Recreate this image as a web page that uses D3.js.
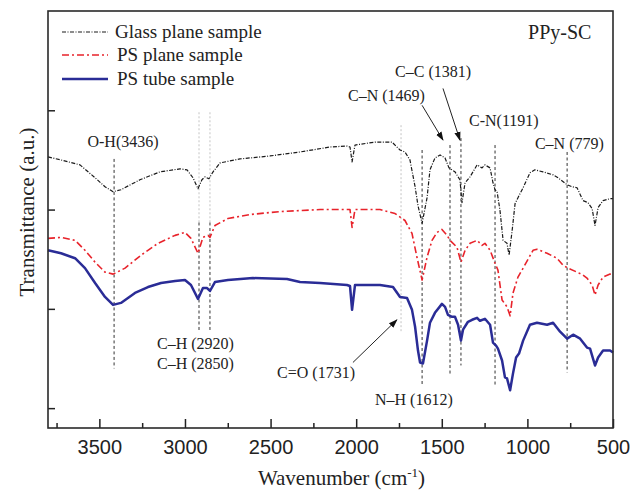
<!DOCTYPE html>
<html><head><meta charset="utf-8">
<script src="https://cdn.jsdelivr.net/npm/d3@7"></script>
<style>body{margin:0;background:#fff;} svg{display:block;}</style>
</head><body>
<svg id="chart" width="633" height="490"></svg>
<script>
// ---- data ----
const seriesNames = ["Glass plane sample", "PS plane sample", "PS tube sample"];
const glassWn = [3800,3724,3613,3525,3467,3420,3374,3263,3146,3029,2988,2953,2924,2901,2883,2860,2836,2795,2679,2503,2328,2153,2054,2036,2024,2007,1890,1791,1744,1715,1686,1656,1639,1615,1586,1569,1540,1510,1481,1458,1423,1394,1382,1364,1335,1294,1265,1248,1218,1201,1189,1177,1160,1142,1119,1107,1089,1072,1055,1025,985,956,909,850,821,768,739,710,675,646,622,605,587,558,517,500];
const glassT  = [3.53,3.50,3.45,3.32,3.23,3.18,3.20,3.30,3.38,3.41,3.40,3.32,3.21,3.30,3.33,3.31,3.38,3.47,3.51,3.54,3.58,3.63,3.64,3.63,3.48,3.65,3.68,3.68,3.60,3.58,3.50,3.23,3.04,2.86,3.12,3.40,3.52,3.55,3.52,3.42,3.38,3.30,3.07,3.27,3.33,3.45,3.42,3.45,3.42,3.27,3.20,3.18,2.99,2.69,2.66,2.54,2.79,3.06,3.12,3.22,3.37,3.40,3.38,3.35,3.32,3.25,3.23,3.22,3.09,3.07,3.01,2.84,3.02,3.09,3.11,3.11];
const planeWn = [3800,3724,3642,3584,3525,3467,3420,3350,3257,3158,3058,3000,2965,2924,2895,2865,2854,2825,2749,2620,2445,2211,2036,2024,2007,1861,1773,1715,1674,1645,1615,1586,1557,1528,1499,1469,1452,1411,1388,1364,1335,1294,1265,1248,1218,1189,1172,1148,1119,1101,1084,1055,1025,967,944,885,827,792,763,710,675,652,622,605,587,558,517,500];
const planeT  = [2.71,2.72,2.69,2.59,2.47,2.37,2.35,2.41,2.54,2.66,2.74,2.77,2.71,2.56,2.72,2.74,2.72,2.84,2.91,2.95,2.98,3.00,3.00,2.82,3.00,3.00,2.96,2.89,2.76,2.52,2.29,2.52,2.69,2.77,2.80,2.74,2.69,2.62,2.47,2.59,2.66,2.69,2.64,2.66,2.59,2.46,2.39,2.09,2.02,1.93,2.16,2.32,2.41,2.59,2.60,2.56,2.51,2.44,2.41,2.37,2.34,2.31,2.24,2.14,2.24,2.32,2.35,2.35];
const tubeWn  = [3800,3724,3642,3584,3525,3467,3420,3374,3292,3216,3140,3058,3000,2965,2924,2895,2871,2854,2825,2749,2603,2404,2328,2211,2054,2036,2024,2007,1861,1785,1744,1703,1674,1656,1639,1627,1610,1586,1569,1540,1499,1481,1464,1440,1423,1405,1388,1376,1347,1323,1294,1277,1248,1218,1201,1183,1172,1148,1131,1119,1101,1084,1066,1049,1025,985,944,885,850,809,768,733,692,652,634,605,587,558,517,500];
const tubeT   = [2.59,2.56,2.51,2.41,2.26,2.12,2.04,2.06,2.16,2.22,2.26,2.28,2.29,2.24,2.10,2.21,2.21,2.18,2.27,2.29,2.31,2.30,2.27,2.26,2.24,2.23,1.99,2.24,2.24,2.22,2.12,2.11,1.99,1.82,1.58,1.46,1.45,1.68,1.86,1.96,2.05,2.02,1.94,1.92,1.92,1.84,1.68,1.79,1.87,1.89,1.91,1.88,1.90,1.84,1.66,1.63,1.60,1.48,1.31,1.30,1.18,1.35,1.51,1.55,1.68,1.84,1.86,1.84,1.86,1.77,1.70,1.74,1.70,1.61,1.60,1.43,1.51,1.58,1.58,1.56];

const majorTicks = [3500,3000,2500,2000,1500,1000,500];
const minorTicks = [3750,3250,2750,2250,1750,1250,750];
const yTicks = [1,2,3,4];

// marker lines: wavenumber, top value, bottom value, style
const markerWn   = [3414, 2918, 2854, 2918, 2854, 1738, 1615, 1452, 1388, 1189, 768];
const markerTop  = [3.51, 3.98, 3.98, 2.87, 2.87, 3.85, 3.60, 3.65, 3.72, 3.65, 3.58];
const markerBot  = [1.40, 2.87, 2.87, 1.77, 1.77, 1.76, 1.23, 1.33, 1.43, 1.23, 1.36];
const markerKind = ["dark","light","light","dark","dark","light","dark","dark","dark","dark","dark"];

const labelText = ["O-H(3436)","C\u2013H (2920)","C\u2013H (2850)","C=O (1731)","N\u2013H (1612)","C\u2013N (1469)","C\u2013C (1381)","C-N(1191)","C\u2013N (779)"];
const labelWn   = [3362, 3163, 3163, 2462, 1890, 2048, 1773, 1341, 956];
const labelT    = [3.63, 1.60, 1.39, 1.30, 1.03, 4.09, 4.34, 3.84, 3.61];
const labelAnchor = ["middle","start","start","start","start","start","start","start","start"];

const arrowFromWn = [2019, 1615, 1493];
const arrowFromT  = [1.46, 4.05, 4.22];
const arrowToWn   = [1762, 1493, 1394];
const arrowToT    = [1.89, 3.70, 3.70];

// ---- drawing ----
const svg = d3.select("#chart");
const L = 48, R = 613, T = 11, B = 428;
const x = d3.scaleLinear().domain([3800, 500]).range([L, R]);
const y = d3.scaleLinear().domain([0.8, 5.0]).range([B, T]);
const serif = "'Liberation Serif','Times New Roman',serif";
const sans = "'Liberation Sans',Arial,sans-serif";

const defs = svg.append("defs");
defs.append("marker").attr("id","ah").attr("viewBox","0 0 10 10").attr("refX",9).attr("refY",5)
  .attr("markerWidth",9).attr("markerHeight",9).attr("orient","auto-start-reverse").attr("markerUnits","userSpaceOnUse")
  .append("path").attr("d","M0,1.5 L10,5 L0,8.5 Z").attr("fill","#111");

// marker lines
markerWn.forEach((w,i)=>{
  svg.append("line").attr("x1",x(w)).attr("x2",x(w)).attr("y1",y(markerTop[i])).attr("y2",y(markerBot[i]))
    .attr("stroke", markerKind[i]==="dark" ? "#333" : "#c4c4c4")
    .attr("stroke-width", 1)
    .attr("stroke-dasharray", markerKind[i]==="dark" ? "3,2.5" : "2,2");
});

// series
const series = [
  {wn: glassWn, t: glassT, color: "#1a1a1a", width: 1.2, dash: "4,1.5,1,1.5"},
  {wn: planeWn, t: planeT, color: "#e8232b", width: 1.6, dash: "7,3,2,3"},
  {wn: tubeWn,  t: tubeT,  color: "#2a2c96", width: 2.5, dash: null}
];
const line = d3.line().x(d=>x(d[0])).y(d=>y(d[1])).curve(d3.curveLinear);
series.forEach(s=>{
  const pts = s.wn.map((w,i)=>[w, s.t[i]]);
  const p = svg.append("path").datum(pts).attr("d", line).attr("fill","none")
    .attr("stroke", s.color).attr("stroke-width", s.width).attr("stroke-linejoin","round");
  if (s.dash) p.attr("stroke-dasharray", s.dash);
});

// arrows
arrowFromWn.forEach((w,i)=>{
  svg.append("line").attr("x1",x(w)).attr("y1",y(arrowFromT[i])).attr("x2",x(arrowToWn[i])).attr("y2",y(arrowToT[i]))
    .attr("stroke","#222").attr("stroke-width",1).attr("marker-end","url(#ah)");
});

// labels
labelText.forEach((t,i)=>{
  svg.append("text").attr("x",x(labelWn[i])).attr("y",y(labelT[i])).attr("text-anchor",labelAnchor[i])
    .attr("font-family",serif).attr("font-size",16).attr("fill","#222").text(t);
});
svg.append("text").attr("x",x(996)).attr("y",y(4.72)).attr("font-family",serif).attr("font-size",20).attr("fill","#222").text("PPy-SC");

// axes
const gx = svg.append("g").attr("transform",`translate(0,${B})`)
  .call(d3.axisBottom(x).tickValues(majorTicks).tickSize(-9).tickPadding(12).tickFormat(d3.format("d")));
gx.select(".domain").remove();
gx.selectAll("text").attr("font-family",sans).attr("font-size",20).attr("fill","#222");
gx.selectAll("line").attr("stroke","#222").attr("stroke-width",1.5);
const gxm = svg.append("g").attr("transform",`translate(0,${B})`)
  .call(d3.axisBottom(x).tickValues(minorTicks).tickSize(-5).tickFormat(""));
gxm.select(".domain").remove();
gxm.selectAll("line").attr("stroke","#222").attr("stroke-width",1.5);
const gy = svg.append("g").attr("transform",`translate(${L},0)`)
  .call(d3.axisLeft(y).tickValues(yTicks).tickSize(-7).tickFormat(""));
gy.select(".domain").remove();
gy.selectAll("line").attr("stroke","#222").attr("stroke-width",1.5);

// frame
svg.append("rect").attr("x",L).attr("y",T).attr("width",R-L).attr("height",B-T)
  .attr("fill","none").attr("stroke","#2a2a2a").attr("stroke-width",1.6);

// axis titles
const xt = svg.append("text").attr("x",(L+R)/2+11).attr("y",485).attr("text-anchor","middle")
  .attr("font-family",serif).attr("font-size",21).attr("fill","#222");
xt.append("tspan").text("Wavenumber (cm");
xt.append("tspan").attr("dy",-8).attr("font-size",13).text("-1");
xt.append("tspan").attr("dy",8).text(")");
svg.append("text").attr("transform",`translate(34,${212}) rotate(-90)`).attr("text-anchor","middle")
  .attr("font-family",serif).attr("font-size",21).attr("fill","#222").text("Transmittance (a.u.)");

// legend
const lg = svg.append("g");
const legY = [32, 55, 79];
series.forEach((s,i)=>{
  const l = lg.append("line").attr("x1",62).attr("x2",108).attr("y1",legY[i]).attr("y2",legY[i])
    .attr("stroke",s.color).attr("stroke-width",s.width);
  if (s.dash) l.attr("stroke-dasharray", s.dash);
  lg.append("text").attr("x", i===0?115:117).attr("y",legY[i]+6).attr("font-family",serif).attr("font-size",19)
    .attr("fill","#222").text(seriesNames[i]);
});
</script>
</body></html>
